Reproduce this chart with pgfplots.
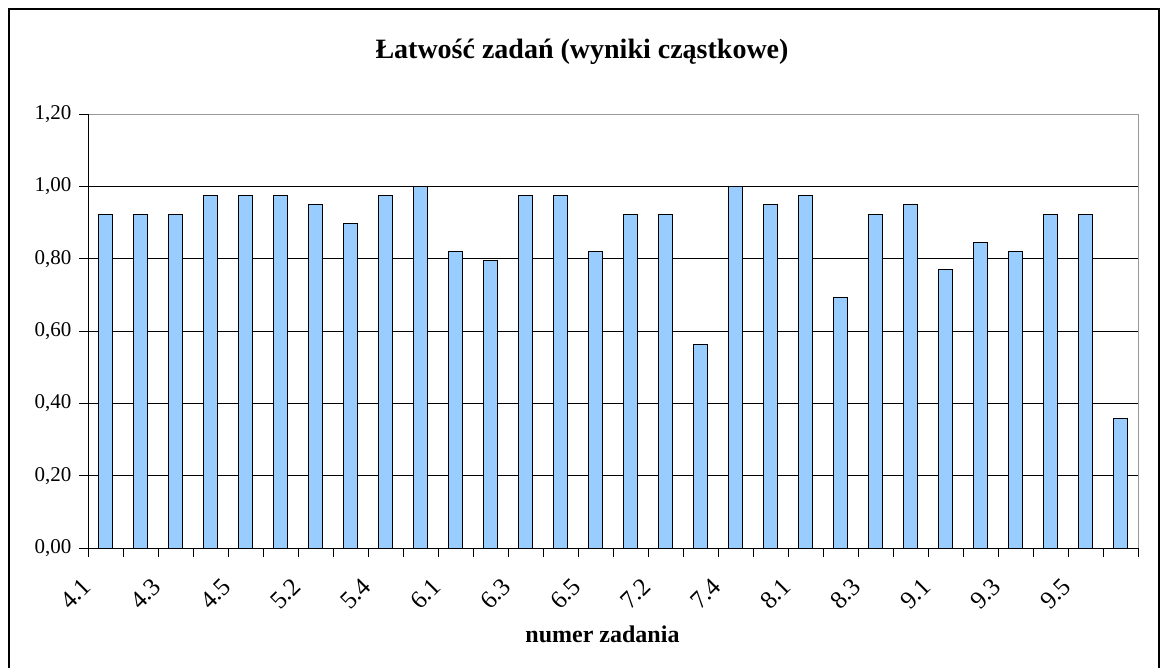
\documentclass[border=0pt]{standalone}
\usepackage{pgfplots}
\pgfplotsset{compat=1.18}
\usepackage{fontspec}
\setmainfont{Liberation Serif}
\definecolor{barblue}{HTML}{99CCFF}
\begin{document}
\begin{tikzpicture}[x=1pt,y=1pt]
\useasboundingbox (0,0) rectangle (1161,667);
\draw[line width=2.5pt] (9,-10) -- (9,658) -- (1159,658) -- (1159,-10);
\node[font=\fontsize{28}{32}\selectfont\bfseries] at (582,615) {Łatwość zadań (wyniki cząstkowe)};
\begin{axis}[
  at={(88pt,119pt)}, anchor=south west,
  scale only axis, width=1050pt, height=434pt,
  xmin=0.5, xmax=30.5, ymin=0, ymax=1.2,
  axis line style={draw=none},
  ytick={0,0.2,0.4,0.6,0.8,1.0,1.2},
  ymajorgrids, grid style={black, line width=0.8pt},
  yticklabel style={font=\fontsize{21}{24}\selectfont, xshift=-4pt},
  /pgf/number format/.cd, fixed, fixed zerofill, precision=2, use comma, assume math mode=true,
  /pgfplots/.cd,
  tick pos=left, tick align=outside,
  major tick length=9pt,
  tick style={black, line width=0.8pt},
  xtick={0.5,1.5,...,30.5},
  xticklabels={},
  extra x ticks={1,3,...,29},
  extra x tick labels={4.1,4.3,4.5,5.2,5.4,6.1,6.3,6.5,7.2,7.4,8.1,8.3,9.1,9.3,9.5},
  extra x tick style={major tick length=0pt, grid=none,
    xticklabel style={font=\fontsize{25}{28}\selectfont, xshift=-25pt, yshift=-27pt, rotate=45, anchor=north east, inner sep=1pt}},
  xlabel={\bfseries numer zadania},
  xlabel style={font=\fontsize{24}{28}\selectfont, at={(0.49,0)}, anchor=center, yshift=-86pt},
  clip=false,
]
\addplot[ybar, bar width=13.5pt, fill=barblue, draw=black, line width=0.9pt] coordinates {
(1,0.923) (2,0.923) (3,0.923) (4,0.974) (5,0.974) (6,0.974) (7,0.949) (8,0.897)
(9,0.974) (10,1.000) (11,0.821) (12,0.795) (13,0.974) (14,0.974) (15,0.821)
(16,0.923) (17,0.923) (18,0.564) (19,1.000) (20,0.949) (21,0.974) (22,0.692)
(23,0.923) (24,0.949) (25,0.769) (26,0.846) (27,0.821) (28,0.923) (29,0.923) (30,0.359)
};
\draw[gray!80, line width=0.9pt] (rel axis cs:0,1) -- (rel axis cs:1,1) -- (rel axis cs:1,0);
\draw[black, line width=0.9pt] (rel axis cs:0,1) -- (rel axis cs:0,0) -- (rel axis cs:1,0);
\end{axis}
\end{tikzpicture}
\end{document}
